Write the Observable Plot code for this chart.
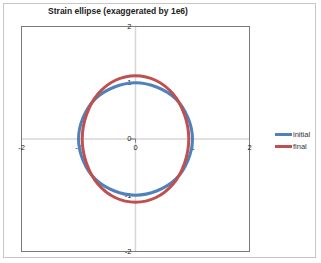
<!DOCTYPE html>
<html><head><meta charset="utf-8">
<script src="https://cdn.jsdelivr.net/npm/d3@7"></script>
<script src="https://cdn.jsdelivr.net/npm/@observablehq/plot@0.6"></script>
<style>
body{margin:0;background:#fff;font-family:"Liberation Sans",Arial,sans-serif;}
#wrap{position:relative;width:321px;height:263px;}
#border{position:absolute;left:3px;top:3px;width:313px;height:255px;border:1px solid #c6c6c6;box-sizing:border-box;}
#title{position:absolute;left:0;top:6px;width:236px;text-align:center;font-size:8.5px;font-weight:bold;color:#222;}
#legend{position:absolute;left:275px;top:128px;font-size:7.5px;color:#333;}
.li{display:flex;align-items:center;height:12px;}
.sw{width:17px;height:3px;margin-right:1px;}
</style></head>
<body><div id="wrap"><div id="border"></div><div id="chart"></div>
<div id="title">Strain ellipse (exaggerated by 1e6)</div>
<div id="legend"></div></div>
<script>
const seriesNames = ["initial", "final"];
const seriesColors = ["#4f81bd", "#c0504d"];
const initialX = [1, 0.92, 0.71, 0.38, 0, -0.38, -0.71, -0.92, -1, -0.92, -0.71, -0.38, 0, 0.38, 0.71, 0.92];
const initialY = [0, 0.38, 0.71, 0.92, 1, 0.92, 0.71, 0.38, 0, -0.38, -0.71, -0.92, -1, -0.92, -0.71, -0.38];
const finalX = [0.935, 0.86, 0.66, 0.36, 0, -0.36, -0.66, -0.86, -0.935, -0.86, -0.66, -0.36, 0, 0.36, 0.66, 0.86];
const finalY = [0, 0.43, 0.80, 1.04, 1.125, 1.04, 0.80, 0.43, 0, -0.43, -0.80, -1.04, -1.125, -1.04, -0.80, -0.43];
const xTicks = [-2, -1, 0, 1, 2];
const yTicks = [-2, -1, 0, 1, 2];

const initial = initialX.map((x, i) => ({x, y: initialY[i]}));
const fin = finalX.map((x, i) => ({x, y: finalY[i]}));
const tickColor = "#7f7f7f";
const plot = Plot.plot({
  width: 321, height: 263,
  marginLeft: 21, marginRight: 72, marginTop: 26, marginBottom: 12,
  x: {domain: [-2, 2], axis: null},
  y: {domain: [-2, 2], axis: null},
  style: {fontFamily: "Liberation Sans, Arial, sans-serif", fontSize: "7.5px", background: "transparent"},
  marks: [
    Plot.ruleX([0], {stroke: "#d6d6d6", strokeWidth: 1.5}),
    Plot.ruleY([0], {stroke: "#d6d6d6", strokeWidth: 1.5}),
    Plot.frame({stroke: "#7a7a7a", strokeWidth: 1}),
    Plot.ruleY(yTicks, {y: d => d, x1: 0, x2: 0, insetLeft: -4, stroke: tickColor}),
    Plot.ruleX(xTicks, {x: d => d, y1: 0, y2: 0, insetBottom: -4, stroke: tickColor}),
    Plot.text(yTicks, {x: 0, y: d => d, text: d => String(d), textAnchor: "end", dx: -4, fill: "#222"}),
    Plot.text(xTicks, {x: d => d, y: 0, text: d => String(d), dy: 9, fill: "#222"}),
    Plot.line(initial, {x: "x", y: "y", curve: "catmull-rom-closed", stroke: seriesColors[0], strokeWidth: 3}),
    Plot.line(fin, {x: "x", y: "y", curve: "catmull-rom-closed", stroke: seriesColors[1], strokeWidth: 3})
  ]
});
document.getElementById("chart").appendChild(plot);
const lg = document.getElementById("legend");
seriesNames.forEach((n, i) => {
  const d = document.createElement("div"); d.className = "li";
  d.innerHTML = `<span class="sw" style="background:${seriesColors[i]}"></span><span>${n}</span>`;
  lg.appendChild(d);
});
</script></body></html>
